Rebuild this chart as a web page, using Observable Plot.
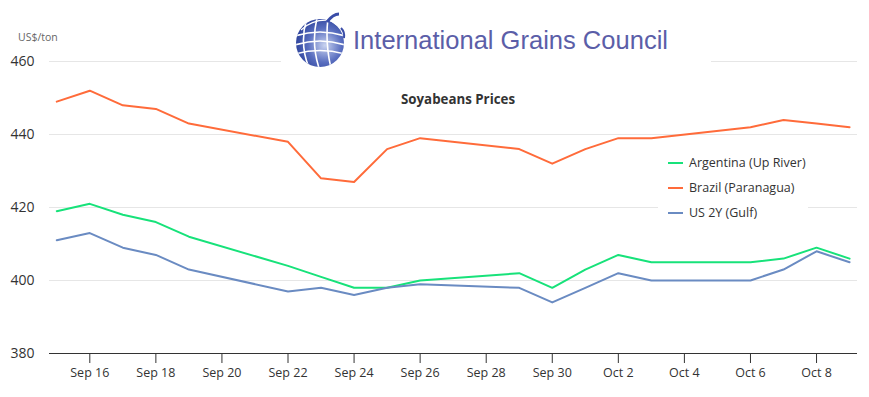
<!DOCTYPE html>
<html><head><meta charset="utf-8">
<script src="https://cdn.jsdelivr.net/npm/d3@7"></script>
<script src="https://cdn.jsdelivr.net/npm/@observablehq/plot@0.6"></script>
<style>
body{margin:0;background:#fff;}
#wrap{position:relative;width:869px;height:397px;font-family:"Open Sans",sans-serif;overflow:hidden;}
#wrap svg.plot{position:absolute;left:0;top:0;}
.ov{position:absolute;}
#logo{left:281px;top:0;width:430px;height:72px;background:#fff;}
#title{left:358px;width:200px;top:90px;text-align:center;font-weight:bold;font-size:13.3px;color:#333;}
#unit{left:18px;top:30px;font-size:10.5px;color:#666;}
#legend{left:658px;top:148px;width:150px;height:80px;background:#fff;}
.li{position:absolute;left:10px;font-size:12.5px;color:#333;white-space:nowrap;}
.sw{display:inline-block;width:15px;height:2px;vertical-align:middle;margin-right:6px;position:relative;top:-1px;}
</style></head><body><div id="wrap"></div>
<script>
const dates = ["2014-09-15","2014-09-16","2014-09-17","2014-09-18","2014-09-19",
  "2014-09-22","2014-09-23","2014-09-24","2014-09-25","2014-09-26",
  "2014-09-29","2014-09-30","2014-10-01","2014-10-02","2014-10-03",
  "2014-10-06","2014-10-07","2014-10-08","2014-10-09"];
const argentina = [419,421,418,416,412, 404,401,398,398,400, 402,398,403,407,405, 405,406,409,406];
const brazil    = [449,452,448,447,443, 438,428,427,436,439, 436,432,436,439,439, 442,444,443,442];
const usGulf    = [411,413,409,407,403, 397,398,396,398,399, 398,394,398,402,400, 400,403,408,405];
const seriesNames = ["Argentina (Up River)","Brazil (Paranagua)","US 2Y (Gulf)"];
const seriesColors = ["#17e27a","#ff6b3a","#6a8bc2"];
const yTicks = [380,400,420,440,460];
const xTicks = ["2014-09-16","2014-09-18","2014-09-20","2014-09-22","2014-09-24","2014-09-26",
  "2014-09-28","2014-09-30","2014-10-02","2014-10-04","2014-10-06","2014-10-08"];
const chartTitle = "Soyabeans Prices";
const unitLabel = "US$/ton";
const orgName = "International Grains Council";

const seriesValues = [argentina, brazil, usGulf];
const rows = [];
seriesNames.forEach((name, i) => {
  dates.forEach((d, j) => rows.push({series: name, date: new Date(d + "T00:00:00Z"), value: seriesValues[i][j]}));
});
const xTickDates = xTicks.map(d => new Date(d + "T00:00:00Z"));
const day = 864e5;
const x0 = new Date(new Date(dates[0] + "T00:00:00Z").getTime() - 0.22 * day);
const x1 = new Date(new Date(dates[dates.length - 1] + "T00:00:00Z").getTime() + 0.24 * day);

const chart = Plot.plot({
  width: 869, height: 397,
  marginLeft: 49, marginRight: 12, marginTop: 61, marginBottom: 44,
  style: {fontFamily: "Open Sans, sans-serif", fontSize: "12.5px", color: "#333", background: "transparent"},
  x: {type: "utc", domain: [x0, x1]},
  y: {domain: [380, 460]},
  color: {domain: seriesNames, range: seriesColors},
  marks: [
    Plot.gridY(yTicks, {stroke: "#e6e6e6", strokeOpacity: 1}),
    Plot.axisY(yTicks, {tickSize: 0, tickPadding: 15, fontSize: 14, label: null, fill: "#333"}),
    Plot.axisX(xTickDates, {tickSize: 10, tickPadding: 5, fontSize: 12.5, tickFormat: d3.utcFormat("%b %-d"), label: null, stroke: "#333", fill: "#333"}),
    Plot.ruleY([380], {stroke: "#333"}),
    Plot.line(rows, {x: "date", y: "value", z: "series", stroke: "series", strokeWidth: 2, curve: "linear"})
  ]
});
chart.classList.add("plot");
const wrap = document.getElementById("wrap");
wrap.appendChild(chart);

// Logo overlay
const logo = document.createElement("div");
logo.className = "ov"; logo.id = "logo";
logo.innerHTML = `<svg width="430" height="72" xmlns="http://www.w3.org/2000/svg">
<defs>
<radialGradient id="gg" cx="0.6" cy="0.55" r="0.7">
<stop offset="0" stop-color="#c9d3f0"/><stop offset="0.5" stop-color="#5a6fc0"/><stop offset="1" stop-color="#1f3590"/>
</radialGradient>
<clipPath id="gc"><circle cx="39" cy="43" r="24"/></clipPath>
</defs>
<circle cx="39" cy="43" r="24" fill="url(#gg)"/>
<g clip-path="url(#gc)" stroke="#fff" stroke-width="1.6" fill="none">
<path d="M14 36 Q39 28 64 36"/><path d="M14 45 Q39 37 64 45"/><path d="M14 54 Q39 47 64 54"/>
<path d="M26 18 Q18 43 28 68"/><path d="M36 18 Q30 43 38 68"/><path d="M47 18 Q44 43 50 68"/>
<path d="M20 30 Q35 16 58 22" stroke-width="1.2"/><path d="M18 27 Q33 12 54 16" stroke-width="1.2"/>
</g>
<path d="M44 19 Q58 24 64 36 L70 30 L70 10 L44 10 Z" fill="#fff"/>
<path d="M46 22 Q52 14 58 14" stroke="#3a4da8" stroke-width="3" fill="none"/>
<path d="M60 28 Q64 32 63 38" stroke="#3a4da8" stroke-width="2" fill="none"/>
<text x="72" y="49" font-family="Liberation Sans, Arial, sans-serif" font-size="26.5" fill="#5b5ea8" textLength="315" lengthAdjust="spacingAndGlyphs">${orgName}</text>
</svg>`;
wrap.appendChild(logo);

const title = document.createElement("div");
title.className = "ov"; title.id = "title"; title.textContent = chartTitle;
wrap.appendChild(title);

const unit = document.createElement("div");
unit.className = "ov"; unit.id = "unit"; unit.textContent = unitLabel;
wrap.appendChild(unit);

const legend = document.createElement("div");
legend.className = "ov"; legend.id = "legend";
seriesNames.forEach((name, i) => {
  const it = document.createElement("div");
  it.className = "li";
  it.style.top = (6 + i * 25) + "px";
  it.innerHTML = `<span class="sw" style="background:${seriesColors[i]}"></span>${name}`;
  legend.appendChild(it);
});
wrap.appendChild(legend);
</script>
</body></html>
